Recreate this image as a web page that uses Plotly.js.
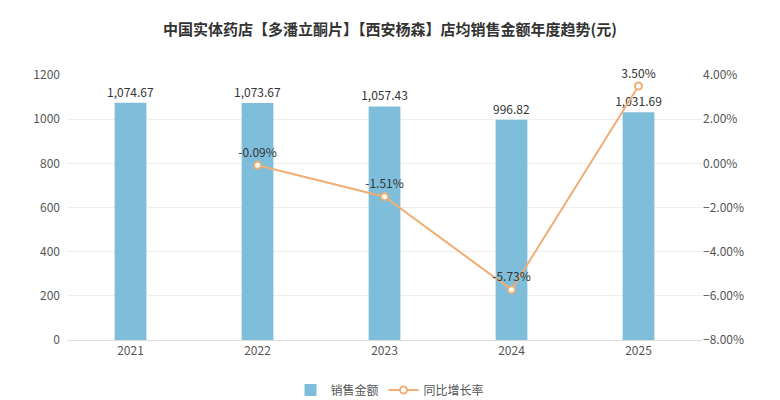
<!DOCTYPE html>
<html>
<head>
<meta charset="utf-8">
<script src="https://cdn.plot.ly/plotly-3.0.1.min.js"></script>
<style>
  html, body { margin: 0; padding: 0; background: #fff; }
  #chart { width: 780px; height: 400px; }
</style>
</head>
<body>
<div id="chart"></div>
<script>
var years = ['2021', '2022', '2023', '2024', '2025'];
var sales = [1074.67, 1073.67, 1057.43, 996.82, 1031.69];
var growthYears = ['2022', '2023', '2024', '2025'];
var growth = [-0.09, -1.51, -5.73, 3.50];

var fnt = '"Noto Sans CJK SC", "Noto Sans", sans-serif';

var barTrace = {
  x: years, y: sales, type: 'bar', name: '销售金额',
  marker: { color: '#7FBEDA' },
  text: sales.map(function (v) { return v.toLocaleString('en-US', { minimumFractionDigits: 2 }); }),
  textposition: 'outside', cliponaxis: false, constraintext: 'none',
  textfont: { size: 12, color: '#333' },
  hoverinfo: 'x+y'
};

var lineTrace = {
  x: growthYears, y: growth, type: 'scatter', mode: 'lines+markers+text', name: '同比增长率',
  yaxis: 'y2',
  line: { color: '#F0AE74', width: 2 },
  marker: { symbol: 'circle', size: 7, color: '#fff', line: { color: '#F0AE74', width: 2 } },
  text: growth.map(function (v) { return v.toFixed(2) + '%'; }),
  textposition: 'top center', cliponaxis: false,
  textfont: { size: 12, color: '#333' }
};

var layout = {
  width: 780, height: 400,
  margin: { l: 67, r: 78, t: 75, b: 60 },
  paper_bgcolor: '#fff', plot_bgcolor: '#fff',
  font: { family: fnt, size: 12, color: '#666' },
  title: { text: '<b>中国实体药店【多潘立酮片】【西安杨森】店均销售金额年度趋势(元)</b>',
           x: 0.5, xanchor: 'center', y: 0.925, yanchor: 'middle',
           font: { size: 15, color: '#333', family: fnt } },
  bargap: 0.75,
  xaxis: { type: 'category', showgrid: false, showline: true, linecolor: '#ddd',
           ticks: '', tickfont: { size: 12, color: '#555' } },
  yaxis: { range: [0, 1200], dtick: 200, gridcolor: '#eee', zeroline: false,
           showline: false, tickfont: { size: 12, color: '#555' }, ticklabelstandoff: 6 },
  yaxis2: { overlaying: 'y', side: 'right', range: [-8, 4], dtick: 2, showgrid: false,
            zeroline: false, ticksuffix: '%', tickformat: '.2f',
            tickfont: { size: 12, color: '#555' } },
  legend: { orientation: 'h', x: 0.5, xanchor: 'center', xref: 'container',
            y: 0.025, yanchor: 'middle', yref: 'container',
            font: { size: 12, color: '#555' } },
  showlegend: true
};

Plotly.newPlot('chart', [barTrace, lineTrace], layout, { displayModeBar: false });
</script>
</body>
</html>
